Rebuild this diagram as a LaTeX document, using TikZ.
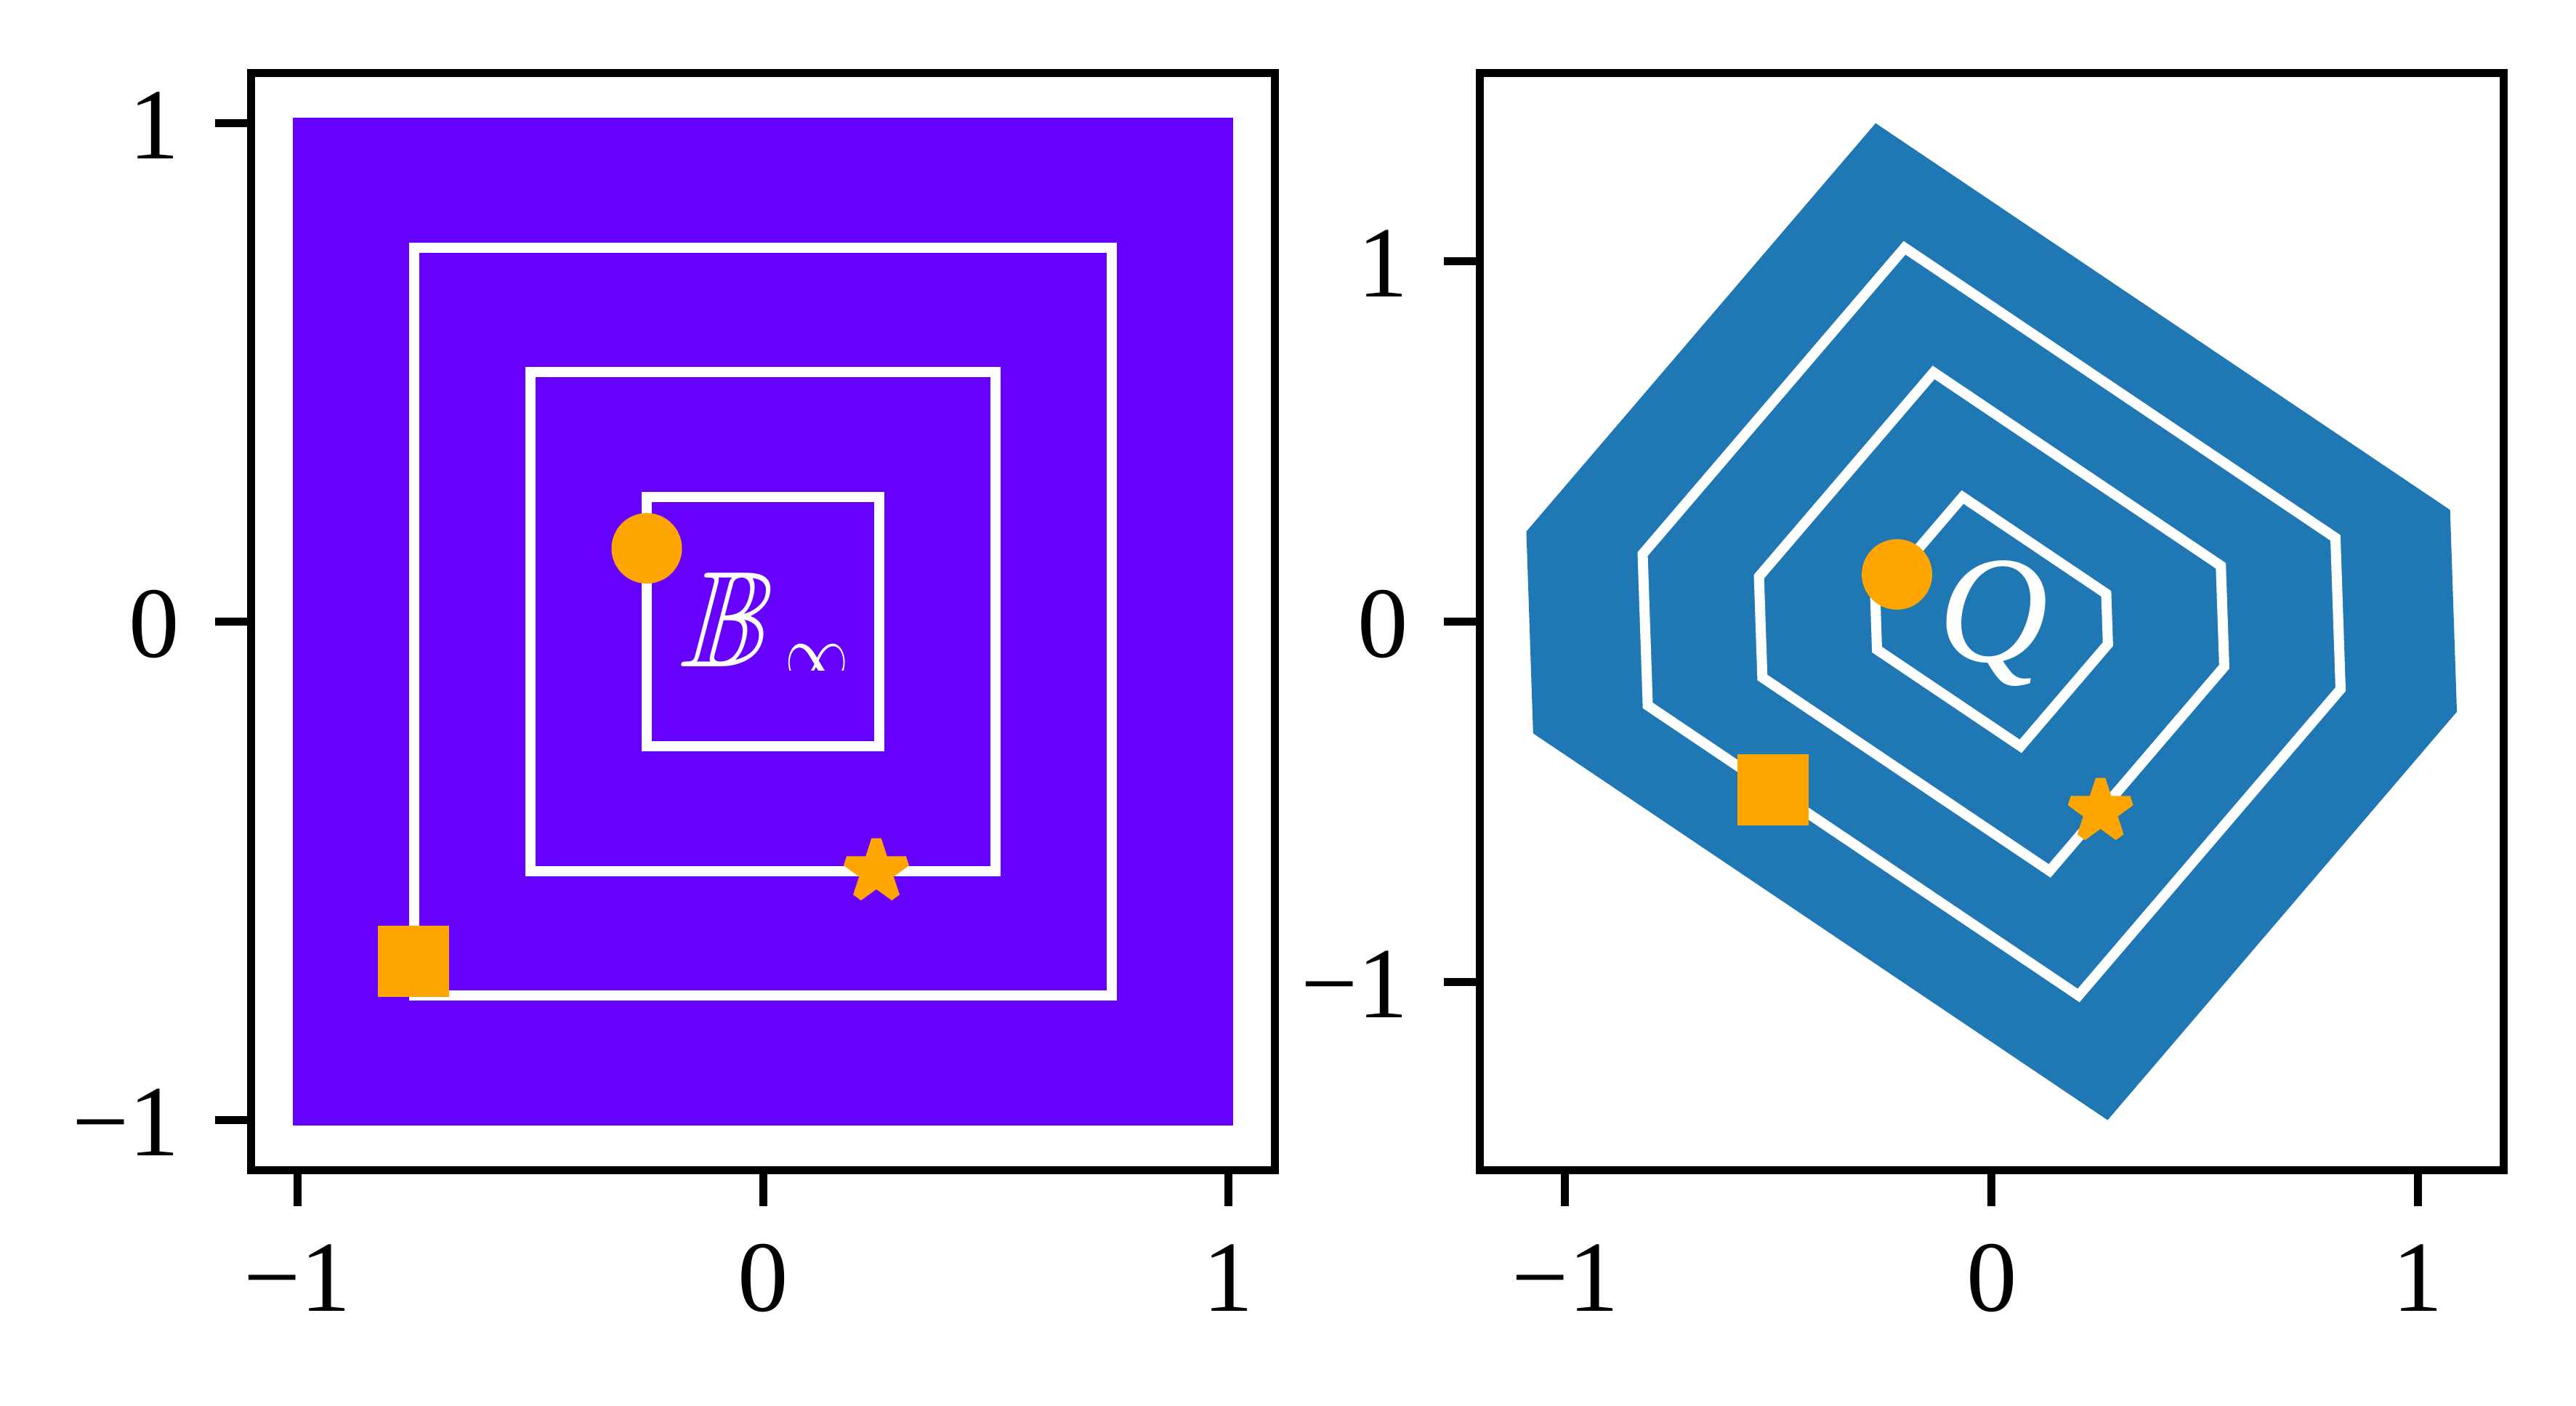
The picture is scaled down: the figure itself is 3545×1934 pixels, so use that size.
\documentclass[tikz,border=0pt]{standalone}
\usepackage{fontspec}
\setmainfont{Liberation Serif}
\usetikzlibrary{shapes.geometric}
\definecolor{bpurple}{HTML}{6600FF}
\definecolor{tblue}{HTML}{1F77B4}
\definecolor{morange}{HTML}{FFA500}
\tikzset{
  axframe/.style={line width=1.1mm, draw=black},
  axtick/.style={line width=1.1mm, draw=black},
  contour/.style={draw=white, line width=1.4mm, line join=miter},
  ticklbl/.style={inner sep=0pt, outer sep=0pt, font=\fontsize{39.5}{40}\selectfont},
  dotmark/.style={circle, fill=morange, inner sep=0pt, minimum size=9.7mm},
  sqmark/.style={rectangle, fill=morange, inner sep=0pt, minimum size=9.8mm},
  starmark/.style={star, star points=5, star point ratio=2.618, fill=morange, draw=morange, line width=1.4mm, line join=bevel, inner sep=0pt, minimum size=8.6mm},
  bigtext/.style={inner sep=0pt, outer sep=0pt, text=white},
}
\begin{document}
\begin{tikzpicture}[x=0.1mm, y=-0.1mm]
\useasboundingbox (0,0) rectangle (3545,1934);
% ---------------- left panel ----------------
\begin{scope}[shift={(1050,855.5)}, x=64.05mm, y=68.64mm]
  \fill[bpurple] (-1.01,-1.01) rectangle (1.01,1.01);
  \foreach \s in {0.75,0.5,0.25}
    \draw[contour] (-\s,-\s) rectangle (\s,\s);
\end{scope}
\node[dotmark] (lcirc) at (890,754.6) {};
\node[sqmark] (lsq) at (569,1323) {};
\node[starmark] (lstar) at (1206,1198.7) {};
\begin{scope}[shift={(935,917)}, xslant=0.26, xscale=0.9]
  \node[bigtext, anchor=base west, transform shape, font=\fontsize{53.5}{60}\selectfont] (bb) at (0,0) {\usefont{U}{msb}{m}{n}B};
\end{scope}
\begin{scope}
  \clip (1000,850) rectangle (1250,922);
  \node[bigtext, anchor=base west, font=\fontsize{25}{30}\selectfont] (binf) at (1080,936) {\scalebox{1}[1.3]{\usefont{OMS}{lmsy}{b}{n}\char49}};
\end{scope}
\draw[axframe] (345.5,100.5) rectangle (1754.5,1610.5);
\foreach \y/\t [count=\i] in {169.1/1, 855.5/0, 1541.9/−1} {
  \draw[axtick] (345.5,\y) -- (296,\y);
  \node[ticklbl, anchor=base east] (lyl\i) at (247,{\y+49}) {\t};
}
\foreach \x/\t [count=\i] in {409.5/−1, 1050/0, 1690.5/1} {
  \draw[axtick] (\x,1610.5) -- (\x,1660);
  \node[ticklbl, anchor=base] (lxl\i) at (\x,1804) {\t};
}
% ---------------- right panel ----------------
\begin{scope}[shift={(2740.75,855.5)}, x=58.69mm, y=49.6mm]
  \fill[tblue] (-0.272,1.383) -- (1.075,0.31) -- (1.091,-0.25) -- (0.272,-1.383) -- (-1.075,-0.31) -- (-1.091,0.25) -- cycle;
  \foreach \s in {0.75,0.5,0.25}
    \draw[contour] ({-0.272*\s},{1.383*\s}) -- ({1.075*\s},{0.31*\s}) -- ({1.091*\s},{-0.25*\s}) -- ({0.272*\s},{-1.383*\s}) -- ({-1.075*\s},{-0.31*\s}) -- ({-1.091*\s},{0.25*\s}) -- cycle;
\end{scope}
\node[bigtext, anchor=base west, font=\fontsize{59.7}{64}\selectfont\itshape] (qq) at (2667,910) {Q};
\node[dotmark] (rcirc) at (2610.5,790.5) {};
\node[sqmark] (rsq) at (2440,1087) {};
\node[starmark] (rstar) at (2890.6,1115.7) {};
\draw[axframe] (2036.5,100.5) rectangle (3445,1610.5);
\foreach \y/\t [count=\i] in {359.5/1, 855.5/0, 1351.5/−1} {
  \draw[axtick] (2036.5,\y) -- (1987,\y);
  \node[ticklbl, anchor=base east] (ryl\i) at (1938,{\y+49}) {\t};
}
\foreach \x/\t [count=\i] in {2153.9/−1, 2740.75/0, 3327.6/1} {
  \draw[axtick] (\x,1610.5) -- (\x,1660);
  \node[ticklbl, anchor=base] (rxl\i) at (\x,1804) {\t};
}
\end{tikzpicture}
\end{document}
